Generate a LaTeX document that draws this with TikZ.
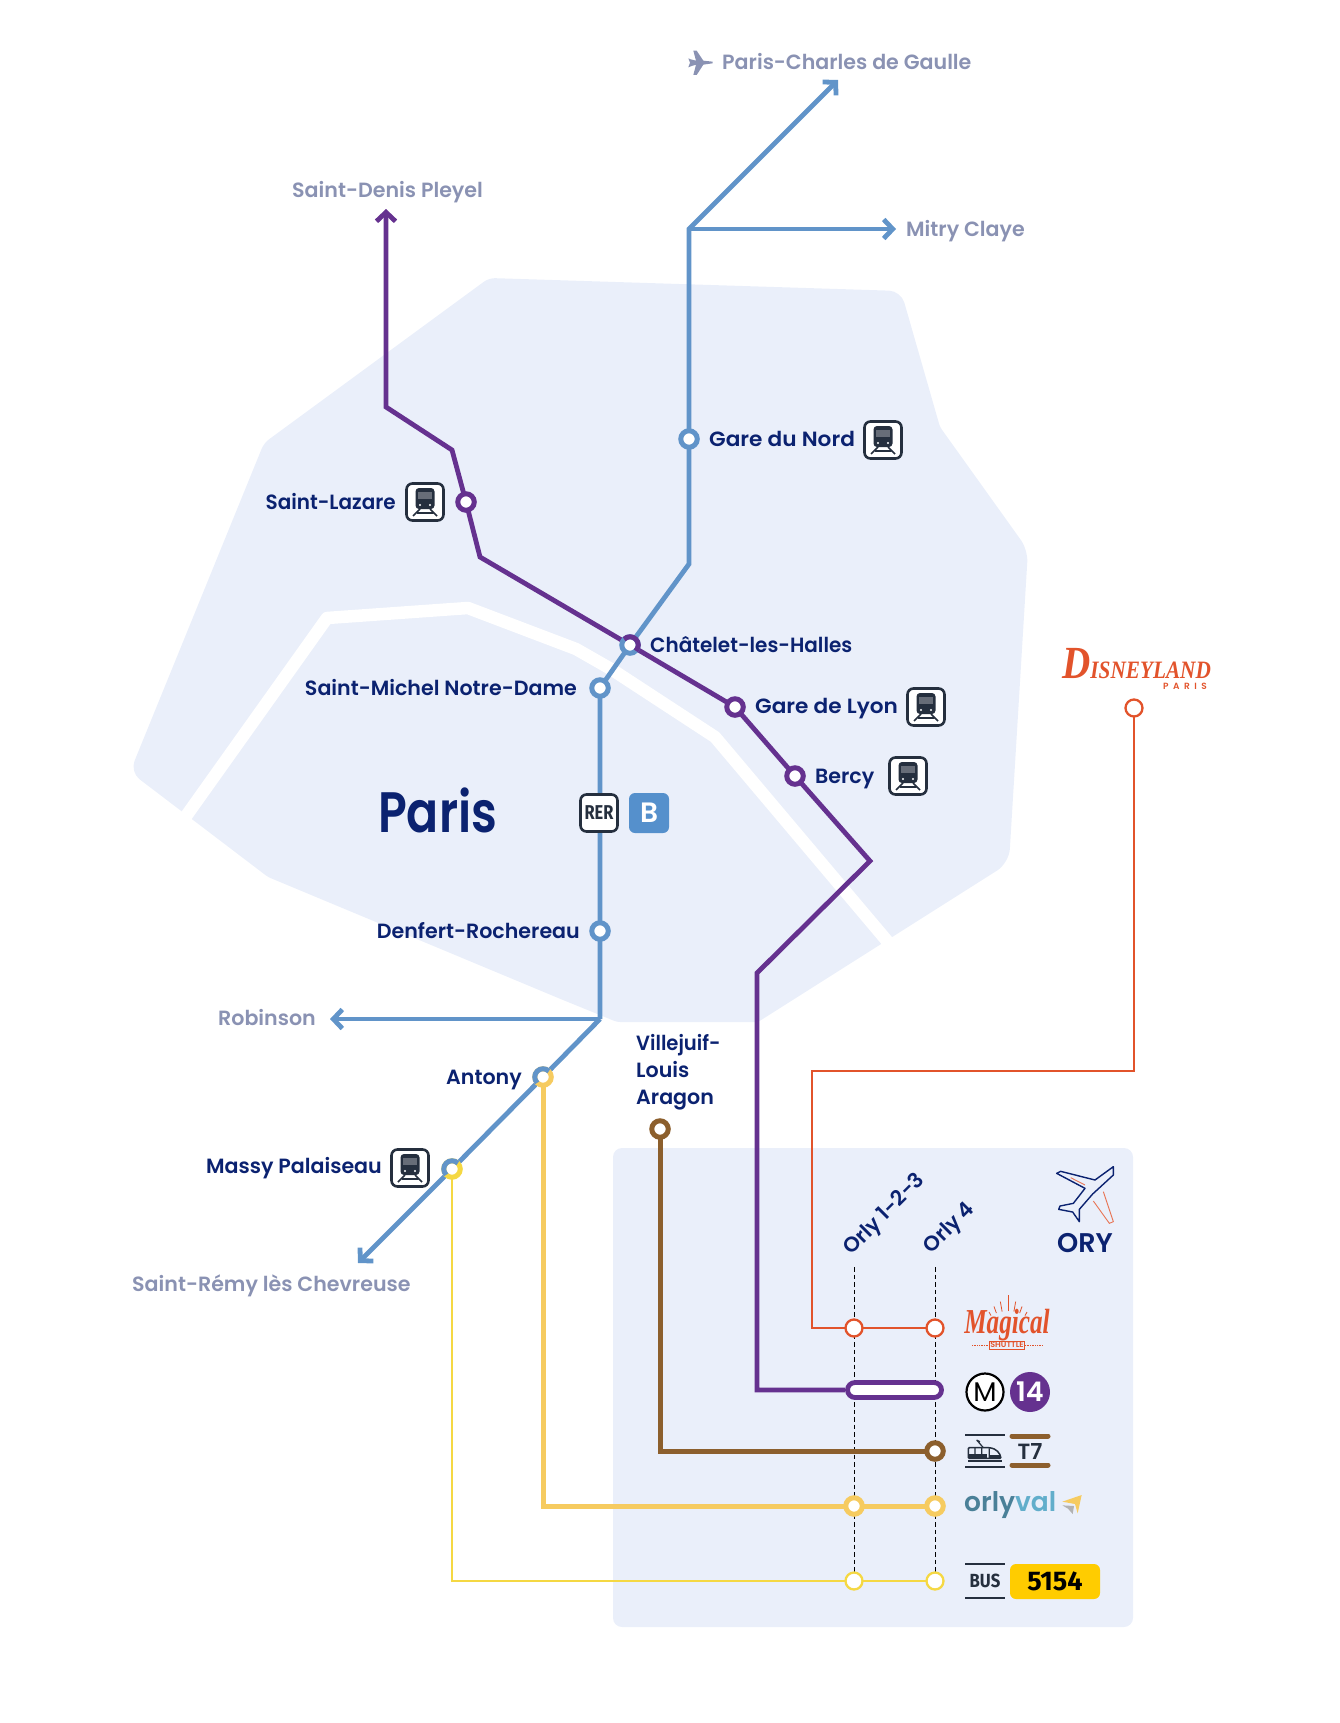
\documentclass[tikz,border=0pt]{standalone}
\usepackage{graphicx}
\usepackage{fontspec}
\usetikzlibrary{arrows.meta,backgrounds,calc}
\setmainfont{Poppins}[BoldFont={Poppins SemiBold}]
\newfontfamily\firaf{Fira Sans}
\newfontfamily\serif{Liberation Serif}
\definecolor{cblob}{HTML}{EAEFFA}
\definecolor{cnavy}{HTML}{0B2270}
\definecolor{cgrey}{HTML}{8A92B3}
\definecolor{cblue}{HTML}{6194C9}
\definecolor{cpurple}{HTML}{65318F}
\definecolor{cred}{HTML}{E2532B}
\definecolor{cbrown}{HTML}{8C5F2D}
\definecolor{corly}{HTML}{F6CB60}
\definecolor{cbus}{HTML}{F5D843}
\definecolor{cdark}{HTML}{252F3E}
\definecolor{ctag}{HTML}{FFCC00}
\definecolor{cbtag}{HTML}{5590CC}
\newcommand{\fsz}[1]{\fontsize{#1}{#1}\selectfont}
\tikzset{
  plainlab/.style={font=\bfseries\fsz{21},text=cnavy,inner sep=0pt},
  lab/.style={font=\bfseries\fsz{20.6},text=cnavy,inner sep=0pt,yshift=-5pt},
  far/.style={font=\bfseries\fsz{20.6},text=cgrey,inner sep=0pt,yshift=-5pt},
  ring/.style={circle,draw=#1,line width=5pt,fill=white,minimum size=16.5pt,inner sep=0pt},
  thinring/.style={circle,draw=#1,line width=2.3pt,fill=white,minimum size=17pt,inner sep=0pt},
  rline/.style={line width=4.8pt,line join=miter},
  farrow/.style={-{Straight Barb[length=9pt,width=19pt,line width=4.8pt]}},
  iconbox/.style={rectangle,draw=cdark,line width=2.6pt,fill=white,rounded corners=6pt,minimum size=37pt,inner sep=0pt},
  trainicon/.pic={
    \node[iconbox] (-box) {};
    \fill[cdark,rounded corners=3.5pt] (-9.5,-14) rectangle (9.5,7);
    \fill[cdark!70] (-7,-10) rectangle (7,-3);
    \fill[white] (-5,3) circle (1.2) (5,3) circle (1.2);
    \draw[cdark,line width=1.6pt] (-5,7)--(-12,14) (5,7)--(12,14) (-8,11)--(8,11);
  },
}
\begin{document}
\begin{tikzpicture}[x=1pt,y=-1pt]
\useasboundingbox (0,0) rectangle (1340,1723);

% way points
\coordinate (sdtip) at (386,209);
\coordinate (p1) at (386,407);
\coordinate (p2) at (452,450);
\coordinate (p3) at (480,557);
\coordinate (p4) at (870,861);
\coordinate (p5) at (757,973);
\coordinate (p6) at (757,1390);
\coordinate (cdgtip) at (838,80);
\coordinate (mitip) at (896,229);
\coordinate (bfork) at (689,229);
\coordinate (b1) at (689,564);
\coordinate (bj) at (600,1019);
\coordinate (rotip) at (330,1019);
\coordinate (srtip) at (358,1263);
\coordinate (r1) at (1134,1071);
\coordinate (r2) at (812,1071);
\coordinate (r3) at (812,1328);
\coordinate (t1) at (660,1451);
\coordinate (o1) at (543,1506);
\coordinate (bu1) at (452,1581);
\coordinate (d1t) at (854,1267);
\coordinate (d2t) at (935,1267);

% stations
\node[ring=cblue] (gn) at (689,439) {};
\node[ring=cblue] (ch) at (630,645) {};
\node[ring=cblue] (sm) at (600,688) {};
\node[ring=cblue] (de) at (600,931) {};
\node[ring=cpurple] (sl) at (466,502) {};
\node[ring=cpurple] (gl) at (735,707) {};
\node[ring=cpurple] (be) at (795,776) {};
\node[ring=corly] (an) at (543,1077) {};
\node[ring=cbus] (ma) at (452,1169) {};
\node[ring=cbrown] (vj) at (660,1129) {};
\node[thinring=cred] (dl) at (1134,708) {};
\node[thinring=cred] (ms1) at (854,1328) {};
\node[thinring=cred] (ms2) at (935,1328) {};
\node[rectangle,rounded corners=7.5pt,draw=cpurple,line width=4.8pt,fill=white,minimum width=94pt,minimum height=15pt,inner sep=0pt] (pill) at (894.5,1390) {};
\node[ring=cbrown] (t2) at (935,1451) {};
\node[ring=corly] (ov1) at (854,1506) {};
\node[ring=corly] (ov2) at (935,1506) {};
\node[thinring=cbus] (bs1) at (854,1581) {};
\node[thinring=cbus] (bs2) at (935,1581) {};

% two coloured rings
\draw[cpurple,line width=5pt] ([shift={(225:8.25)}]ch.center) arc[start angle=225,end angle=405,radius=8.25];
\draw[cblue,line width=5pt] ([shift={(135:8.25)}]an.center) arc[start angle=135,end angle=315,radius=8.25];
\draw[cblue,line width=5pt] ([shift={(135:8.25)}]ma.center) arc[start angle=135,end angle=315,radius=8.25];

\begin{scope}[on background layer]
  \fill[cblob,rounded corners=3pt] (489,278) [rounded corners=12pt] -- (901,291) [rounded corners=3pt] -- (940,427) [rounded corners=12pt] -- (1028,550) [rounded corners=14pt] -- (1009,863) [rounded corners=3pt] -- (758,1022) -- (617,1022) -- (563,1000) -- (268,877) [rounded corners=12pt] -- (130,772) [rounded corners=6pt] -- (264,443) -- cycle;
  \draw[white,line width=12.5pt,line join=round] (179,826) -- (327,618) -- (468,608) -- (576,649) -- (611,669) -- (715,737) -- (893,948);
  \fill[cblob,rounded corners=9pt] (613,1148) rectangle (1133,1627);
  \draw[black,line width=1pt,dash pattern=on 4.5pt off 3pt] (d1t) -- (bs1.center);
  \draw[black,line width=1pt,dash pattern=on 4.5pt off 3pt] (d2t) -- (bs2.center);
  % blue
  \draw[cblue,rline,farrow] (ch.center) -- (b1) -- (gn.center) -- (bfork) -- (cdgtip);
  \draw[cblue,rline,farrow] (bfork) -- (mitip);
  \draw[cblue,rline] (ch.center) -- (sm.center) -- (de.center) -- (bj);
  \draw[cblue,rline,farrow] (bj) -- (rotip);
  \draw[cblue,rline,farrow] (bj) -- (an.center) -- (ma.center) -- (srtip);
  % purple
  \draw[cpurple,rline,farrow] (ch.center) -- (p3) -- (sl.center) -- (p2) -- (p1) -- (sdtip);
  \draw[cpurple,rline] (ch.center) -- (gl.center) -- (be.center) -- (p4) -- (p5) -- (p6) -- (pill.west);
  % others
  \draw[cred,line width=2.5pt] (dl.center) -- (r1) -- (r2) -- (r3) -- (ms1.center) -- (ms2.center);
  \draw[cbrown,line width=5pt] (vj.center) -- (t1) -- (t2.center);
  \draw[corly,line width=5pt] (an.center) -- (o1) -- (ov1.center) -- (ov2.center);
  \draw[cbus,line width=2.5pt] (ma.center) -- (bu1) -- (bs1.center) -- (bs2.center);
\end{scope}

% labels
\node[far,anchor=mid west] (tcdg) at (722,62) {Paris-Charles de Gaulle};
\fill[cgrey,shift={(670,30)},scale=1/3] (128,95) -- (100,92) -- (80,62) -- (70,62) -- (78,92) -- (62,88) -- (55,85) -- (60,98) -- (55,112) -- (65,108) -- (78,104) -- (70,135) -- (80,135) -- (100,104) -- (128,100) -- cycle;
\node[far,anchor=mid west] (tsd) at (292,190) {Saint-Denis Pleyel};
\node[far,anchor=mid west] (tmi) at (906,229) {Mitry Claye};
\node[far,anchor=mid east] (tro) at (316,1018) {Robinson};
\node[far,anchor=mid west] (tsr) at (132,1284) {Saint-Rémy lès Chevreuse};

\node[lab,anchor=mid west] (tgn) at (709,439) {\scalebox{1.05}[1]{Gare du Nord}};
\node[lab,anchor=mid east] (tsl) at (396,502) {\scalebox{0.97}[1]{Saint-Lazare}};
\node[lab,anchor=mid west] (tch) at (650,645) {\scalebox{0.97}[1]{Châtelet-les-Halles}};
\node[lab,anchor=mid east] (tsm) at (577,688) {Saint-Michel Notre-Dame};
\node[lab,anchor=mid west] (tgl) at (755,706) {\scalebox{1.05}[1]{Gare de Lyon}};
\node[lab,anchor=mid west] (tbe) at (815,776) {Bercy};
\node[lab,anchor=mid east] (tde) at (580,931) {Denfert-Rochereau};
\node[lab,anchor=mid east] (tan) at (522,1077) {Antony};
\node[lab,anchor=mid east] (tma) at (382,1166) {Massy Palaiseau};
\node[lab,anchor=mid west] (tv1) at (636,1043) {\scalebox{0.95}[1]{Villejuif-}};
\node[lab,anchor=mid west] (tv2) at (636,1070) {Louis};
\node[lab,anchor=mid west] (tv3) at (636,1097) {Aragon};
\node[inner sep=0pt,anchor=base west,text=cnavy,font=\bfseries\fsz{57}] (tparis) at (378,832) {\scalebox{0.83}[1]{Paris}};

\pic (ign) at (883,440) {trainicon};
\pic (isl) at (425,502) {trainicon};
\pic (igl) at (926,707) {trainicon};
\pic (ibe) at (908,776) {trainicon};
\pic (ima) at (410,1168) {trainicon};

\node[iconbox,font=\firaf\bfseries\fsz{20},text=cdark] (rer) at (599,813) {\scalebox{0.82}[1]{RER}};
\node[rectangle,fill=cbtag,rounded corners=6pt,minimum size=40pt,inner sep=0pt,font=\bfseries\fsz{28},text=white] (bb) at (649,813) {B};

\node[plainlab,rotate=45] (to1) at (885,1215) {Orly 1-2-3};
\node[plainlab,rotate=45] (to4) at (950,1229) {Orly 4};
\node[plainlab,font=\bfseries\fsz{27}] (tory) at (1085,1243) {ORY};

% ORY plane
\begin{scope}[shift={(800,1140)},scale=1/3]
  \draw[cnavy,line width=1.4pt,line join=round] (940,80) -- (885,120) -- (782,94) -- (770,100) -- (855,145) -- (820,190) -- (780,198) -- (776,208) -- (818,216) -- (838,245) -- (838,208) -- (878,162) -- (940,105) -- cycle;
  \draw[cred!80,line width=0.9pt] (812,113) -- (855,135);
  \draw[cred!80,line width=0.9pt] (880,183) -- (928,250) -- (940,245) -- (910,155);
\end{scope}

% Disneyland
\node[inner sep=0pt,anchor=base west,text=cred,font=\serif\bfseries\itshape\fsz{25}] (tdis) at (1062,678) {\scalebox{0.85}[1]{{\fsz{46}D}ISNEYLAND}};
\node[inner sep=0pt,anchor=east,text=cred,font=\bfseries\fsz{9}] (tdp) at (1207,686) {P\hspace{4.5pt}A\hspace{4.5pt}R\hspace{4.5pt}I\hspace{4.5pt}S};

% Magical shuttle
\node[inner sep=0pt,text=cred,font=\serif\bfseries\itshape\fsz{35}] (tmag) at (1007,1325) {\scalebox{0.72}[1]{Magical}};
\node[inner sep=1pt,draw=cred,line width=.6pt,text=cred,font=\bfseries\fsz{8}] (tsh) at (1007,1345) {SHUTTLE};
\coordinate (sl1) at (972,1345); \coordinate (sl2) at (1043,1345);
\draw[cred,line width=.7pt,densely dotted] (sl1) -- (tsh.west);
\draw[cred,line width=.7pt,densely dotted] (tsh.east) -- (sl2);
\coordinate (rays) at (1008,1345);
\foreach \a/\r in {-30/38,-20/41,-10/44,0/50,10/44,20/41,30/38}
  \draw[cred,line width=.8pt] ($(rays)+(\a-90:34)$) -- ($(rays)+(\a-90:\r)$);

% M 14
\node[circle,draw=black,line width=2.2pt,fill=white,minimum size=37pt,inner sep=0pt,font=\fsz{27}] (mm) at (985,1392) {M};
\node[circle,fill=cpurple,minimum size=40pt,inner sep=0pt,text=white,font=\bfseries\fsz{27}] (m14) at (1030,1392) {14};

% tram T7
\coordinate (tb1) at (965,1435); \coordinate (tb2) at (1005,1435);
\coordinate (tb3) at (965,1467); \coordinate (tb4) at (1005,1467);
\draw[cdark,line width=2.4pt] (tb1) -- (tb2) (tb3) -- (tb4);
\begin{scope}[shift={(800,1380)},scale=1/3]
  \draw[cdark,line width=1.5pt,rounded corners=1pt] (505,203) -- (565,203) .. controls (590,205) and (600,220) .. (603,235) -- (505,235) -- cycle;
  \fill[cdark] (508,222) rectangle (560,235);
  \fill[cdark] (570,224) -- (603,224) -- (603,235) -- (570,235) -- cycle;
  \draw[cdark,line width=1.2pt] (525,203) -- (525,222) (545,203) -- (545,222) (568,205) -- (568,235) (530,180) -- (550,203) (530,180) -- (540,185);
  \draw[cdark,line width=1.2pt] (505,243) -- (605,243);
\end{scope}
\coordinate (t7a) at (1010,1436); \coordinate (t7b) at (1050,1436);
\coordinate (t7c) at (1010,1465); \coordinate (t7d) at (1050,1465);
\draw[cbrown,line width=5pt,line cap=round,shorten <=2pt,shorten >=2pt] (t7a) -- (t7b);
\draw[cbrown,line width=5pt,line cap=round,shorten <=2pt,shorten >=2pt] (t7c) -- (t7d);
\node[inner sep=0pt,text=cdark,font=\bfseries\fsz{22}] (tt7) at (1030,1451) {T7};

% orlyval
\node[inner sep=0pt,anchor=mid west,font=\bfseries\fsz{27}] (tov) at (964,1509) {\scalebox{0.98}[1]{\textcolor[HTML]{4A8098}{orly}\textcolor[HTML]{62AECB}{val}}};
\begin{scope}[shift={(800,1380)},scale=1/3]
  \fill[corly] (787,365) -- (845,345) -- (833,400) -- (825,372) -- cycle;
  \fill[black!30] (787,376) -- (822,378) -- (818,402) -- (804,386) -- cycle;
\end{scope}

% BUS 5154
\coordinate (bb1) at (965,1564); \coordinate (bb2) at (1005,1564);
\coordinate (bb3) at (965,1598); \coordinate (bb4) at (1005,1598);
\draw[cdark,line width=2.4pt] (bb1) -- (bb2) (bb3) -- (bb4);
\node[inner sep=0pt,text=cdark,font=\firaf\bfseries\fsz{19}] (tbus) at (985,1581) {\scalebox{0.88}[1]{BUS}};
\node[rectangle,fill=ctag,rounded corners=6pt,minimum width=90pt,minimum height=35pt,inner sep=0pt,text=black,font=\firaf\bfseries\fsz{27}] (t5154) at (1055,1581.5) {5154};
\end{tikzpicture}
\end{document}
